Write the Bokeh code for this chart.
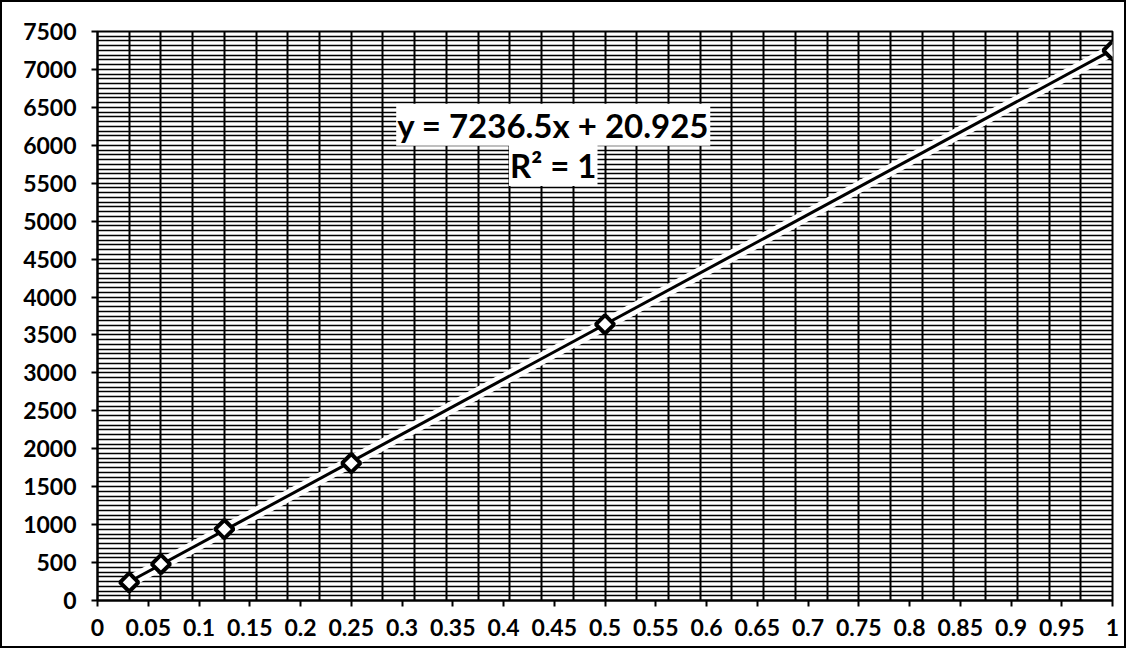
from bokeh.plotting import figure
from bokeh.models import FixedTicker, Label, Range1d
from bokeh.embed import file_html
from bokeh.resources import INLINE
import numpy as np

# data
conc = [0.03125, 0.0625, 0.125, 0.25, 0.5, 1.0]
signal = [240, 480, 940, 1810, 3640, 7250]
slope, intercept = 7236.5, 20.925
eq_text = "y = 7236.5x + 20.925"
r2_text = "R² = 1"

x_ticks = [0, 0.05, 0.1, 0.15, 0.2, 0.25, 0.3, 0.35, 0.4, 0.45, 0.5, 0.55,
           0.6, 0.65, 0.7, 0.75, 0.8, 0.85, 0.9, 0.95, 1]
x_labels = ["0", "0.05", "0.1", "0.15", "0.2", "0.25", "0.3", "0.35", "0.4", "0.45", "0.5", "0.55",
            "0.6", "0.65", "0.7", "0.75", "0.8", "0.85", "0.9", "0.95", "1"]
y_ticks = [0, 500, 1000, 1500, 2000, 2500, 3000, 3500, 4000, 4500, 5000, 5500, 6000, 6500, 7000, 7500]

FONT = "Lato"

p = figure(width=1126, height=648, output_backend="svg", toolbar_location=None,
           x_range=Range1d(0, 1), y_range=Range1d(0, 7500),
           min_border_left=95, min_border_right=16, min_border_top=29, min_border_bottom=50)
p.styles = {"border": "2px solid black", "box-sizing": "border-box"}

p.outline_line_color = "black"
p.outline_line_width = 2

# grids
p.xgrid.ticker = FixedTicker(ticks=list(np.arange(0, 1.0001, 1 / 32)))
p.xgrid.grid_line_color = "black"
p.xgrid.grid_line_width = 2
p.ygrid.ticker = FixedTicker(ticks=list(np.arange(0, 7500.1, 62.5)))
p.ygrid.grid_line_color = "black"
p.ygrid.grid_line_width = 1.5

# axes
p.xaxis.ticker = FixedTicker(ticks=x_ticks)
p.xaxis.major_label_overrides = {t: l for t, l in zip(x_ticks, x_labels)}
p.yaxis.ticker = FixedTicker(ticks=y_ticks)
for ax in (p.xaxis[0], p.yaxis[0]):
    ax.axis_line_color = "black"
    ax.axis_line_width = 2
    ax.major_tick_line_color = "black"
    ax.major_tick_line_width = 2
    ax.major_tick_out = 6
    ax.major_tick_in = 0
    ax.minor_tick_line_color = None
    ax.major_label_text_font = FONT
    ax.major_label_text_font_size = "23px"
    ax.major_label_text_font_style = "bold"
    ax.major_label_text_color = "black"
p.xaxis.major_label_standoff = 12
p.yaxis.major_label_standoff = 15

# trendline with white halo
tx = [min(conc), max(conc)]
ty = [slope * v + intercept for v in tx]
p.line(tx, ty, line_color="white", line_width=12)
p.line(tx, ty, line_color="black", line_width=3)

# markers (square rotated 45 degrees)
p.scatter(conc, signal, marker="square", angle=np.pi / 4, size=13, fill_color="white",
          line_color="black", line_width=4)

# equation labels
for txt, yv in ((eq_text, 6270), (r2_text, 5740)):
    p.add_layout(Label(x=0.449, y=yv, text=txt, text_align="center", text_baseline="middle",
                       text_font=FONT, text_font_size="33px", text_font_style="bold",
                       text_color="black", background_fill_color="white",
                       padding=1))

open("out.html", "w").write(file_html(p, INLINE))
